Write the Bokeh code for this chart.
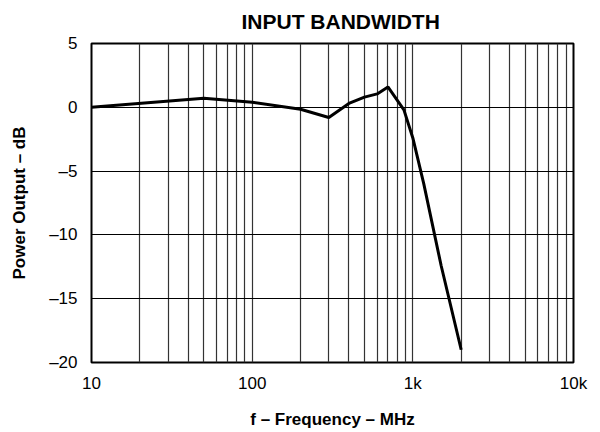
from bokeh.plotting import figure
from bokeh.models import FixedTicker, Title
from bokeh.embed import file_html
from bokeh.resources import INLINE

freq_mhz = [10, 50, 100, 200, 300, 400, 500, 600, 700, 880, 1000, 1170, 1500, 2000]
power_db = [0.0, 0.7, 0.4, -0.15, -0.8, 0.3, 0.8, 1.05, 1.6, -0.2, -2.4, -6.0, -12.4, -19.0]

x_major = [10, 100, 1000, 10000]
x_labels = ["10", "100", "1k", "10k"]
x_minor = [m * d for d in (10, 100, 1000) for m in range(2, 10)]
y_major = [-20, -15, -10, -5, 0, 5]
y_labels = ["\u201320", "\u201315", "\u201310", "\u20135", "0", "5"]
title_text = "INPUT BANDWIDTH"

FONT = "Liberation Sans"

p = figure(width=600, height=432, x_axis_type="log", x_range=(10, 10000), y_range=(-20, 5),
           output_backend="svg", toolbar_location=None,
           min_border_left=91, min_border_right=27, min_border_top=43, min_border_bottom=70,
           frame_width=482, frame_height=319)

p.title = Title(text=title_text, text_font=FONT, text_font_size="21px",
                text_color="black", text_font_style="bold", align="left", offset=150,
                standoff=18, vertical_align="top")

p.outline_line_color = "black"
p.outline_line_width = 2

p.xaxis.ticker = FixedTicker(ticks=x_major, minor_ticks=x_minor)
p.xaxis.major_label_overrides = {v: s for v, s in zip(x_major, x_labels)}
p.yaxis.ticker = FixedTicker(ticks=y_major)
p.yaxis.major_label_overrides = {v: s for v, s in zip(y_major, y_labels)}

for ax in (p.xaxis, p.yaxis):
    ax.axis_line_color = None
    ax.major_tick_line_color = None
    ax.minor_tick_line_color = None
    ax.major_label_text_font = FONT
    ax.major_label_text_font_size = "17px"
    ax.major_label_text_color = "black"
    ax.axis_label_text_font = FONT
    ax.axis_label_text_font_size = "17px"
    ax.axis_label_text_font_style = "bold"
    ax.axis_label_text_color = "black"

p.xaxis.axis_label = "f \u2013 Frequency \u2013 MHz"
p.yaxis.axis_label = "Power Output \u2013 dB"
p.xaxis.major_label_standoff = 5
p.yaxis.major_label_standoff = 8
p.xaxis.axis_label_standoff = 14
p.yaxis.axis_label_standoff = 17

p.xgrid.grid_line_color = "#333333"
p.xgrid.grid_line_width = 1.2
p.xgrid.minor_grid_line_color = "#333333"
p.xgrid.minor_grid_line_width = 1.2
p.ygrid.grid_line_color = "black"
p.ygrid.grid_line_width = 1

p.line(freq_mhz, power_db, line_color="black", line_width=3)

open("out.html", "w").write(file_html(p, INLINE))
